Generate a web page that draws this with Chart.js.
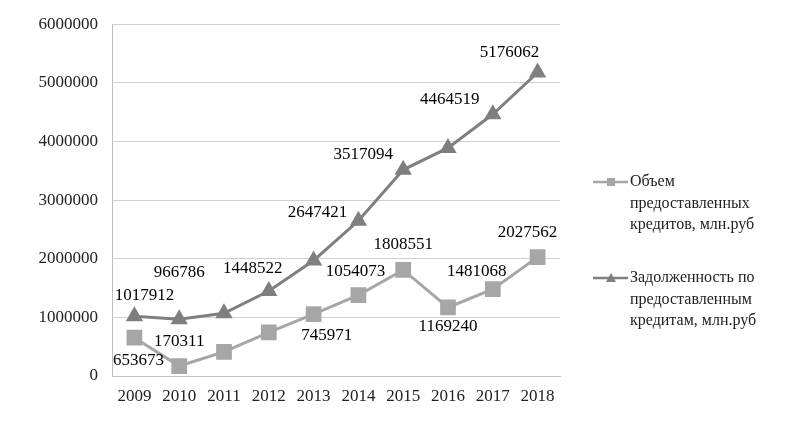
<!DOCTYPE html>
<html>
<head>
<meta charset="utf-8">
<script src="https://cdn.jsdelivr.net/npm/chart.js@4.4.1/dist/chart.umd.min.js"></script>
<style>
  html, body { margin: 0; padding: 0; background: #fff; }
  #wrap { width: 806px; height: 447px; position: relative; }
</style>
</head>
<body>
<div id="wrap"><canvas id="chart" width="806" height="447"></canvas></div>
<script>
// data
const years = ['2009', '2010', '2011', '2012', '2013', '2014', '2015', '2016', '2017', '2018'];
const volume = [653673, 170311, 410000, 745971, 1054073, 1380000, 1808551, 1169240, 1481068, 2027562];
const debt = [1017912, 966786, 1070000, 1448522, 1970000, 2647421, 3517094, 3890000, 4464519, 5176062];
// which points carry a value label (as printed in the picture)
const volumeLabeled = [true, true, false, true, true, false, true, true, true, true];
const debtLabeled = [true, true, false, true, false, true, true, false, true, true];
const seriesNames = [
    ['Объем', 'предоставленных', 'кредитов, млн.руб'],
    ['Задолженность по', 'предоставленным', 'кредитам, млн.руб']
];

// label placement relative to the point (px)
const volumeLabelOffsets = [[4, 23], [0, -24], null, [58, 3], [42, -43], null, [0, -25], [0, 19], [-16, -18], [-10, -25]];
const debtLabelOffsets = [[10, -21], [0, -47], null, [-16, -23], null, [-41, -8], [-40, -15], null, [-43, -15], [-28, -20]];

const lightGray = '#a6a6a6';
const darkGray = '#7f7f7f';
const font = 'Liberation Serif';

const valueLabels = {
    id: 'valueLabels',
    afterDatasetsDraw(chart) {
        const ctx = chart.ctx;
        const sets = [
            { flags: volumeLabeled, offs: volumeLabelOffsets },
            { flags: debtLabeled, offs: debtLabelOffsets }
        ];
        ctx.save();
        ctx.font = '17px "' + font + '"';
        ctx.fillStyle = '#000';
        ctx.textAlign = 'center';
        ctx.textBaseline = 'middle';
        sets.forEach((s, i) => {
            const meta = chart.getDatasetMeta(i);
            const values = chart.data.datasets[i].data;
            meta.data.forEach((pt, j) => {
                if (!s.flags[j]) return;
                const o = s.offs[j];
                ctx.fillText(String(values[j]), pt.x + o[0], pt.y + o[1]);
            });
        });
        ctx.restore();
    }
};

const sideLegend = {
    id: 'sideLegend',
    afterDraw(chart) {
        const ctx = chart.ctx;
        const rows = [182, 278];
        ctx.save();
        ctx.font = '16px "' + font + '"';
        ctx.textBaseline = 'middle';
        ctx.textAlign = 'left';
        chart.data.datasets.forEach((ds, i) => {
            const y = rows[i];
            ctx.strokeStyle = ds.borderColor;
            ctx.lineWidth = 2.5;
            ctx.beginPath();
            ctx.moveTo(593, y);
            ctx.lineTo(628, y);
            ctx.stroke();
            ctx.fillStyle = ds.borderColor;
            if (ds.pointStyle === 'rect') {
                ctx.fillRect(607, y - 4, 8, 8);
            } else {
                ctx.beginPath();
                ctx.moveTo(611, y - 5);
                ctx.lineTo(616, y + 4);
                ctx.lineTo(606, y + 4);
                ctx.closePath();
                ctx.fill();
            }
            ctx.fillStyle = '#222';
            seriesNames[i].forEach((line, k) => {
                ctx.fillText(line, 630, y + k * 21.5);
            });
        });
        ctx.restore();
    }
};

new Chart(document.getElementById('chart').getContext('2d'), {
    type: 'line',
    data: {
        labels: years,
        datasets: [
            {
                label: seriesNames[0].join(' '),
                data: volume,
                borderColor: lightGray,
                backgroundColor: lightGray,
                borderWidth: 3,
                pointStyle: 'rect',
                pointRadius: 9,
                pointHoverRadius: 9,
                tension: 0
            },
            {
                label: seriesNames[1].join(' '),
                data: debt,
                borderColor: darkGray,
                backgroundColor: darkGray,
                borderWidth: 3,
                pointStyle: 'triangle',
                pointRadius: 7,
                pointHoverRadius: 7,
                tension: 0
            }
        ]
    },
    options: {
        responsive: false,
        animation: false,
        layout: { padding: { top: 23, right: 246, bottom: 36, left: 0 } },
        plugins: {
            legend: { display: false },
            tooltip: { enabled: false }
        },
        scales: {
            x: {
                offset: true,
                grid: { display: false, drawTicks: false },
                border: { color: '#bfbfbf', width: 1 },
                ticks: { color: '#222', font: { family: font, size: 17 }, padding: 10 },
                afterFit: (s) => { s.height = 35; }
            },
            y: {
                min: 0,
                max: 6000000,
                grid: { color: '#d0d0d0', drawTicks: false },
                border: { color: '#bfbfbf', width: 1 },
                ticks: {
                    stepSize: 1000000,
                    color: '#222',
                    font: { family: font, size: 17 },
                    padding: 14,
                    callback: (v) => String(v)
                },
                afterFit: (s) => { s.width = 112; }
            }
        }
    },
    plugins: [valueLabels, sideLegend]
});
</script>
</body>
</html>
